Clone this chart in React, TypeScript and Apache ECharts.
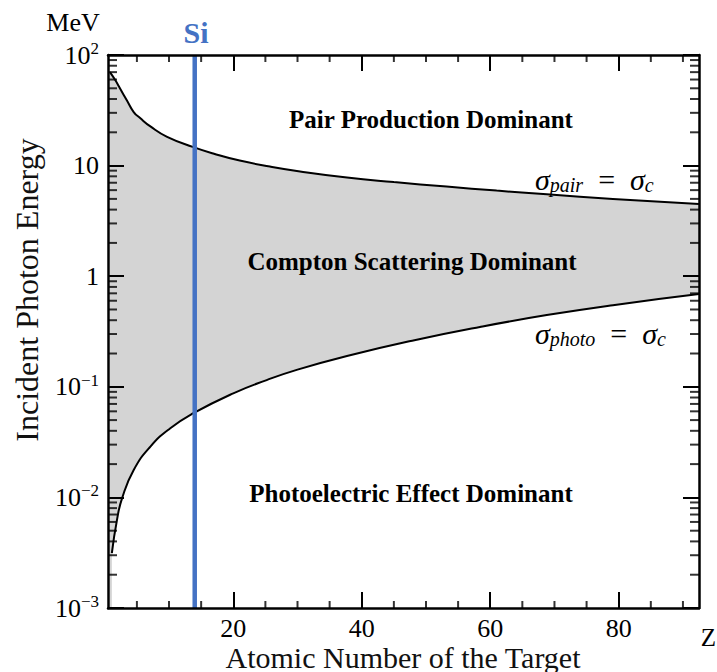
import React, { useEffect, useRef } from "react";
import * as echarts from "echarts";

// ---- data ----
const pairZ = [0.8, 1.65, 2.4, 3.45, 4.5, 5.5, 7.1, 9.7, 13.8, 17, 21, 25.7, 30.4, 37.7, 45, 53.2, 61, 68.8, 79.1, 92.5];
const pairE = [70, 59, 49.5, 38.8, 30.5, 26.9, 22.6, 18.2, 14.7, 12.8, 11.1, 9.8, 8.85, 7.8, 7.1, 6.46, 5.94, 5.5, 5.0, 4.5];
const photoZ = [1.1, 1.9, 2.7, 4.5, 7.1, 10.2, 13.8, 20, 25.2, 30, 37.7, 48.2, 58.4, 68.8, 79.1, 92.5];
const photoE = [0.00314, 0.00627, 0.00985, 0.0177, 0.0288, 0.0422, 0.0577, 0.0873, 0.115, 0.143, 0.19, 0.264, 0.348, 0.445, 0.547, 0.689];
const siZ = 14;

const X_MIN = 0.5;
const X_MAX = 92.5;
const Y_MIN = 0.001;
const Y_MAX = 100;
const xMajorTicks = [20, 40, 60, 80];
const xMinorTicks = [5, 10, 15, 25, 30, 35, 45, 50, 55, 65, 70, 75, 85, 90];
const yDecades = [0.001, 0.01, 0.1, 1, 10];
const yMantissas = [2, 3, 4, 5, 6, 7, 8, 9];
const yMinorTicks: number[] = [];
yDecades.forEach((d) => yMantissas.forEach((m) => yMinorTicks.push(+(d * m).toPrecision(3))));

const xTitle = "Atomic Number of the Target";
const yTitle = "Incident Photon Energy";
const yUnit = "MeV";
const xUnit = "Z";
const regionLabels = ["Pair Production Dominant", "Compton Scattering Dominant", "Photoelectric Effect Dominant"];

const FONT = '"Liberation Serif", "Times New Roman", Times, serif';
const BLUE = "#4472C4";

export default function App() {
  const ref = useRef<HTMLDivElement>(null);
  useEffect(() => {
    if (!ref.current) return;
    const chart = echarts.init(ref.current, null, { renderer: "svg" });

    const axisLine = { show: true, onZero: false, lineStyle: { color: "#000", width: 2.5 } };
    const tickStyle = { color: "#000", width: 2 };

    const yLabelFmt = (v: number) => {
      const e = Math.round(Math.log10(v));
      if (e === 0) return "{b|1}";
      if (e === 1) return "{b|10}";
      return `{b|10}{s|${e < 0 ? "\u2212" + -e : e}}`;
    };

    const tickSeries = (name: string, data: number[][], size: number[], offset: number[]) => ({
      name, type: "scatter", xAxisIndex: 0, yAxisIndex: 0, z: 10, silent: true, clip: false,
      data, symbol: "rect", symbolSize: size, symbolOffset: offset,
      itemStyle: { color: "#000" },
    });

    const mathRich = {
      m: { fontSize: 30, fontStyle: "italic", fontFamily: FONT, fill: "#000", lineHeight: 32 },
      sub: { fontSize: 20, fontStyle: "italic", fontFamily: FONT, fill: "#000", lineHeight: 18, verticalAlign: "bottom" },
      eq: { fontSize: 30, fontFamily: FONT, fill: "#000", lineHeight: 32 },
    };

    const option: any = {
      animation: false,
      grid: { left: 108, top: 55, right: 18, bottom: 64, containLabel: false, outerBoundsMode: "none" },
      xAxis: [
        {
          type: "value", position: "bottom", min: X_MIN, max: X_MAX, z: 10,
          axisLine, splitLine: { show: false },
          axisTick: { show: true, inside: true, length: 16, customValues: xMajorTicks, lineStyle: tickStyle },
          axisLabel: { show: true, customValues: xMajorTicks, margin: 7, color: "#000", fontSize: 26, fontFamily: FONT },
        },
        {
          type: "value", position: "top", min: X_MIN, max: X_MAX, z: 10,
          axisLine, splitLine: { show: false },
          axisTick: { show: true, inside: true, length: 16, customValues: xMajorTicks, lineStyle: tickStyle },
          axisLabel: { show: false },
        },
      ],
      yAxis: [
        {
          type: "log", logBase: 10, position: "left", min: Y_MIN, max: Y_MAX, z: 10,
          axisLine, splitLine: { show: false },
          axisTick: { show: true, inside: true, length: 16, lineStyle: tickStyle },
          axisLabel: {
            show: true, margin: 9, formatter: yLabelFmt,
            rich: {
              b: { fontSize: 26, fontFamily: FONT, color: "#000", lineHeight: 30 },
              s: { fontSize: 17, fontFamily: FONT, color: "#000", verticalAlign: "top", lineHeight: 17 },
            },
          },
        },
        {
          type: "log", logBase: 10, position: "right", min: Y_MIN, max: Y_MAX, z: 10,
          axisLine, splitLine: { show: false },
          axisTick: { show: true, inside: true, length: 16, lineStyle: tickStyle },
          axisLabel: { show: false },
        },
      ],
      series: [
        {
          name: "σpair = σc", type: "line", xAxisIndex: 0, yAxisIndex: 0,
          data: pairZ.map((z, i) => [z, pairE[i]]),
          smooth: 0.5, symbol: "none",
          lineStyle: { color: "#000", width: 2 },
          areaStyle: { color: "#d4d4d4", opacity: 1, origin: "start" },
          z: 2,
        },
        {
          name: "σphoto = σc", type: "line", xAxisIndex: 0, yAxisIndex: 0,
          data: photoZ.map((z, i) => [z, photoE[i]]),
          smooth: 0.5, symbol: "none",
          lineStyle: { color: "#000", width: 2 },
          areaStyle: { color: "#ffffff", opacity: 1, origin: "start" },
          z: 3,
        },
        {
          name: "Si", type: "line", xAxisIndex: 0, yAxisIndex: 0,
          data: [[siZ, Y_MIN], [siZ, Y_MAX]],
          symbol: "none", lineStyle: { color: BLUE, width: 4.5 }, z: 5,
        },
        tickSeries("yMinorLeft", yMinorTicks.map((v) => [X_MIN, v]), [9, 2], [4.5, 0]),
        tickSeries("yMinorRight", yMinorTicks.map((v) => [X_MAX, v]), [9, 2], [-4.5, 0]),
        tickSeries("xMinorBottom", xMinorTicks.map((v) => [v, Y_MIN]), [2, 7], [0, -3.5]),
        tickSeries("xMinorTop", xMinorTicks.map((v) => [v, Y_MAX]), [2, 7], [0, 3.5]),
      ],
      graphic: [
        { type: "text", x: 73, y: 22, style: { text: yUnit, fontSize: 26, fontFamily: FONT, fill: "#000", align: "center", verticalAlign: "middle" } },
        { type: "text", x: 196, y: 32, z: 20, style: { text: "Si", fontSize: 30, fontWeight: "bold", fontFamily: FONT, fill: BLUE, align: "center", verticalAlign: "middle" } },
        { type: "text", x: 716, y: 637, style: { text: xUnit, fontSize: 25, fontFamily: FONT, fill: "#000", align: "right", verticalAlign: "middle" } },
        { type: "text", x: 403, y: 657, style: { text: xTitle, fontSize: 30, fontFamily: FONT, fill: "#111", align: "center", verticalAlign: "middle" } },
        { type: "text", x: 27, y: 290, rotation: Math.PI / 2, style: { text: yTitle, fontSize: 32, fontFamily: FONT, fill: "#111", align: "center", verticalAlign: "middle" } },
        { type: "text", x: 431, y: 119, z: 20, style: { text: regionLabels[0], fontSize: 25, fontWeight: "bold", fontFamily: FONT, fill: "#000", align: "center", verticalAlign: "middle" } },
        { type: "text", x: 412, y: 261, z: 20, style: { text: regionLabels[1], fontSize: 25, fontWeight: "bold", fontFamily: FONT, fill: "#000", align: "center", verticalAlign: "middle" } },
        { type: "text", x: 411, y: 493, z: 20, style: { text: regionLabels[2], fontSize: 25, fontWeight: "bold", fontFamily: FONT, fill: "#000", align: "center", verticalAlign: "middle" } },
        {
          type: "text", x: 535, y: 179, z: 20,
          style: { text: "{m|σ}{sub|pair}{eq|  =  }{m|σ}{sub|c}", align: "left", verticalAlign: "middle", rich: mathRich },
        },
        {
          type: "text", x: 535, y: 333, z: 20,
          style: { text: "{m|σ}{sub|photo}{eq|  =  }{m|σ}{sub|c}", align: "left", verticalAlign: "middle", rich: mathRich },
        },
      ],
    };
    chart.setOption(option);
    return () => chart.dispose();
  }, []);
  return <div ref={ref} style={{ position: "absolute", left: 0, top: 0, width: 717, height: 672, background: "#fff" }} />;
}
